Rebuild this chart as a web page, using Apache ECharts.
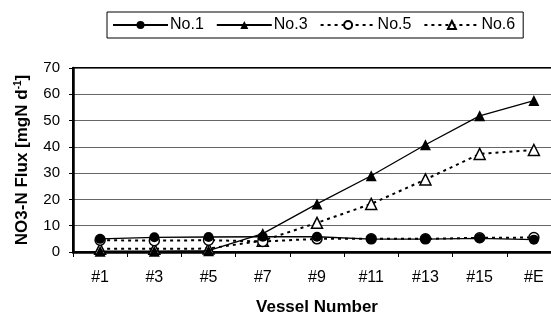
<!DOCTYPE html>
<html>
<head>
<meta charset="utf-8">
<script src="https://cdn.jsdelivr.net/npm/echarts@6/dist/echarts.min.js"></script>
<style>
  html, body { margin: 0; padding: 0; background: #fff; }
  #chart { width: 551px; height: 316px; }
</style>
</head>
<body>
<div id="chart"></div>
<script>
// vessels along the x axis
var vessels = ["#1", "#3", "#5", "#7", "#9", "#11", "#13", "#15", "#E"];
// NO3-N flux per series
var no1 = [5.0, 5.6, 5.7, 5.8, 5.8, 4.9, 4.9, 5.2, 4.7];
var no3 = [0.3, 0.3, 0.5, 7.0, 18.3, 29.0, 40.8, 51.8, 57.6];
var no5 = [4.5, 4.3, 4.5, 4.0, 5.0, 5.0, 5.0, 5.4, 5.5];
var no6 = [1.2, 1.2, 1.3, 4.3, 11.1, 18.3, 27.6, 37.3, 38.8];

var font = "Liberation Sans, Arial, sans-serif";

var myChart = echarts.init(document.getElementById("chart"));

function lineSeries(name, data, symbol, filled, dashed, z) {
  return {
    name: name,
    type: "line",
    data: data,
    z: z,
    symbol: symbol,
    symbolSize: symbol == "triangle" ? 11 : 10,
    showAllSymbol: true,
    lineStyle: {
      color: "#000",
      width: dashed ? 2 : 1.3,
      type: dashed ? [3, 4] : "solid",
    },
    itemStyle: {
      color: filled ? "#000" : "#fff",
      borderColor: "#000",
      borderWidth: filled ? 0 : 1.5,
    },
  };
}

var option = {
  animation: false,
  backgroundColor: "#fff",
  textStyle: { fontFamily: font },
  legend: {
    top: 12,
    left: 107,
    itemWidth: 55,
    itemHeight: 10,
    itemGap: 12,
    padding: [5, 8, 5, 5],
    borderColor: "#000",
    borderWidth: 1,
    borderRadius: 0,
    textStyle: { fontSize: 16, color: "#000", fontFamily: font, padding: [0, 0, 0, -3] },
    data: ["No.1", "No.3", "No.5", "No.6"],
  },
  grid: {
    left: 73,
    top: 68,
    bottom: 64,
    width: 488,
    outerBoundsMode: "none",
    containLabel: false,
    show: true,
    borderColor: "#000",
    borderWidth: 2,
  },
  xAxis: {
    type: "category",
    data: vessels,
    boundaryGap: true,
    name: "Vessel Number",
    nameLocation: "middle",
    nameGap: 47,
    nameTextStyle: { fontSize: 17, fontWeight: "bold", color: "#000", fontFamily: font },
    axisLine: { lineStyle: { color: "#000", width: 2.5 } },
    axisTick: { show: true, length: 5, lineStyle: { color: "#000" } },
    axisLabel: { fontSize: 16, color: "#000", margin: 18, fontFamily: font },
    splitLine: { show: false },
  },
  yAxis: {
    type: "value",
    min: 0,
    max: 70,
    interval: 10,
    name: "NO3-N Flux [mgN d{sup|-1}]",
    nameLocation: "middle",
    nameGap: 42,
    nameRotate: 90,
    nameTextStyle: {
      fontSize: 17,
      fontWeight: "bold",
      color: "#000",
      fontFamily: font,
      rich: {
        sup: { fontSize: 10, fontWeight: "bold", color: "#000", fontFamily: font, padding: [0, 0, 8, 0] },
      },
    },
    axisLine: { show: true, lineStyle: { color: "#000", width: 2.5 } },
    axisTick: { show: true, length: 4, lineStyle: { color: "#000" } },
    axisLabel: { fontSize: 15, color: "#000", margin: 13, fontFamily: font },
    splitLine: { show: true, lineStyle: { color: "#666", width: 1 } },
  },
  series: [
    lineSeries("No.1", no1, "circle", true, false, 5),
    lineSeries("No.3", no3, "triangle", true, false, 4),
    lineSeries("No.5", no5, "circle", false, true, 3),
    lineSeries("No.6", no6, "triangle", false, true, 2),
  ],
};

myChart.setOption(option);
</script>
</body>
</html>
